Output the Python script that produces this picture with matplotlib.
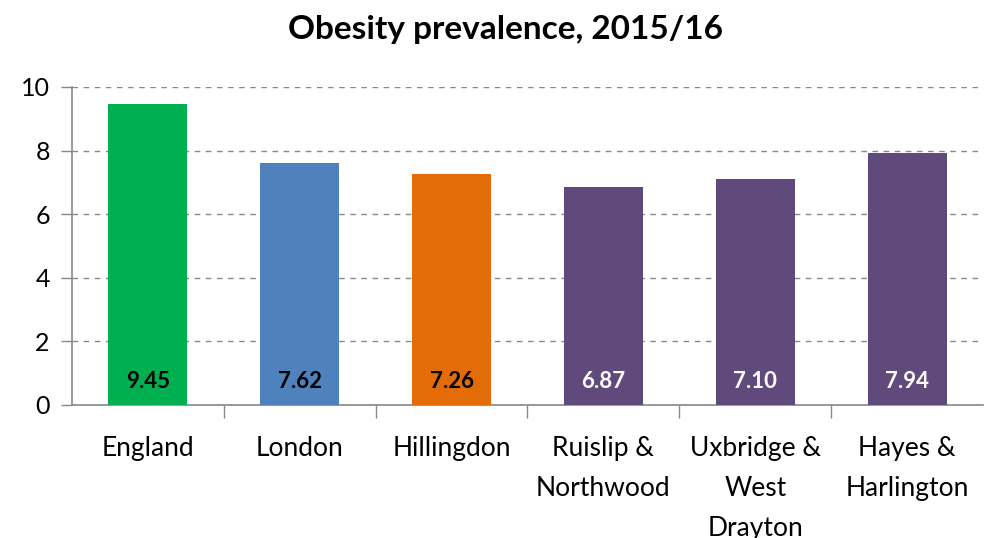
import matplotlib
matplotlib.use("Agg")
import matplotlib.pyplot as plt

categories = ["England", "London", "Hillingdon", "Ruislip &\nNorthwood",
              "Uxbridge &\nWest\nDrayton", "Hayes &\nHarlington"]
values = [9.45, 7.62, 7.26, 6.87, 7.10, 7.94]
labels = ["9.45", "7.62", "7.26", "6.87", "7.10", "7.94"]
colors = ["#00B050", "#4F81BD", "#E36C09", "#604A7B", "#604A7B", "#604A7B"]
label_colors = ["black", "black", "black", "white", "white", "white"]
yticks = [0, 2, 4, 6, 8, 10]
title = "Obesity prevalence, 2015/16"

plt.rcParams['font.family'] = ['Lato', 'DejaVu Sans']

fig = plt.figure(figsize=(9.84, 5.38), dpi=100)
ax = fig.add_axes([72/984, (538-405)/538, (983-72)/984, (405-87)/538])

x = list(range(len(values)))
ax.bar(x, values, width=0.52, color=colors, zorder=3)
for xi, lab, lc in zip(x, labels, label_colors):
    ax.text(xi, 0.75, lab, ha='center', va='center', fontsize=16,
            fontweight='bold', color=lc, zorder=4)

ax.set_xlim(-0.5, len(values) - 0.5)
ax.set_ylim(0, 10)
ax.set_yticks(yticks)
ax.set_yticklabels([str(t) for t in yticks], fontsize=18)
ax.yaxis.grid(True, linestyle=(0, (4, 4)), color='#888888', linewidth=1, zorder=0)

ax.set_xticks([i + 0.5 for i in range(len(values) - 1)], minor=False)
ax.set_xticklabels([])
ax.tick_params(axis='x', length=9, color='#888888', width=1)
ax.tick_params(axis='y', length=8, color='#888888', width=1, pad=8)
ax.set_xticks(x, minor=True)
ax.set_xticklabels(categories, minor=True, fontsize=19, linespacing=1.75)
ax.tick_params(axis='x', which='minor', length=0, pad=22)

for s in ['top', 'right']:
    ax.spines[s].set_visible(False)
ax.spines['left'].set_color('#888888')
ax.spines['bottom'].set_color('#888888')
ax.spines['left'].set_linewidth(1.2)
ax.spines['bottom'].set_linewidth(1.2)

fig.text(505/984, 1 - 30/538, title, ha='center', va='center', fontsize=24,
         fontweight='bold')

fig.savefig("out.png", dpi=100)
